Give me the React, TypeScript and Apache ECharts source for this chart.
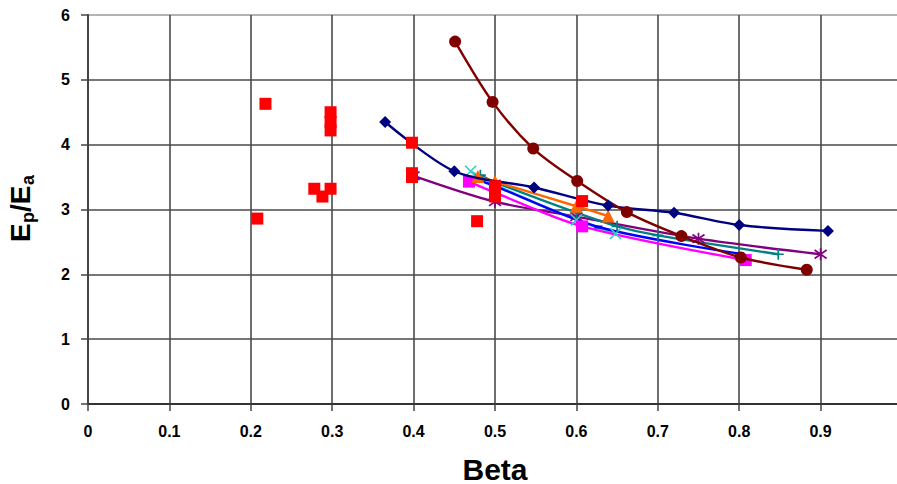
import React, { useEffect, useRef } from "react";
import * as echarts from "echarts";

// Beta (x) and Ep/Ea (y) for each test series
const navyBeta = [0.365, 0.45, 0.548, 0.639, 0.72, 0.8, 0.909];
const navyRatio = [4.35, 3.59, 3.34, 3.06, 2.95, 2.76, 2.67];

const maroonBeta = [0.451, 0.497, 0.547, 0.601, 0.662, 0.729, 0.802, 0.883];
const maroonRatio = [5.59, 4.66, 3.94, 3.44, 2.96, 2.59, 2.26, 2.07];

const purpleBeta = [0.4, 0.5, 0.6, 0.75, 0.9];
const purpleRatio = [3.52, 3.12, 2.89, 2.55, 2.31];

const tealBeta = [0.482, 0.5, 0.6, 0.65, 0.7, 0.848];
const tealRatio = [3.53, 3.42, 2.95, 2.74, 2.6, 2.31];

const cyanBeta = [0.47, 0.5, 0.6, 0.648];
const cyanRatio = [3.59, 3.38, 2.84, 2.63];

const orangeBeta = [0.479, 0.5, 0.6, 0.639];
const orangeRatio = [3.51, 3.43, 3.05, 2.9];

const blueBeta = [0.475, 0.5, 0.627, 0.8];
const blueRatio = [3.48, 3.36, 2.73, 2.32];

const magentaBeta = [0.468, 0.5, 0.607, 0.808];
const magentaRatio = [3.43, 3.26, 2.74, 2.22];

const redBeta = [0.218, 0.298, 0.298, 0.298, 0.278, 0.298, 0.288, 0.208, 0.398, 0.398, 0.398, 0.478, 0.5, 0.5, 0.5, 0.607];
const redRatio = [4.63, 4.5, 4.35, 4.22, 3.32, 3.32, 3.2, 2.86, 4.03, 3.56, 3.5, 2.82, 3.36, 3.28, 3.2, 3.13];

const xTickStep = 0.1;
const yTickStep = 1;

const pairs = (xs: number[], ys: number[]) => xs.map((x, i) => [x, ys[i]]);

const FONT = "'Liberation Sans', Arial, sans-serif";

const crossPath = "path://M0,0L10,10M10,0L0,10";
const starPath = "path://M5,0L5,10M0.8,1.5L9.2,8.5M9.2,1.5L0.8,8.5";
const plusPath = "path://M5,0L5,10M0,5L10,5";

function lineSeries(
  name: string,
  xs: number[],
  ys: number[],
  color: string,
  symbol: string,
  symbolSize: number | number[],
  stroked = false,
  z = 2
) {
  return {
    name,
    type: "line",
    data: pairs(xs, ys),
    smooth: 0.3,
    symbol,
    symbolSize,
    symbolKeepAspect: false,
    z,
    lineStyle: { color, width: 2.4 },
    itemStyle: stroked
      ? { color: "transparent", borderColor: color, borderWidth: 1.7, opacity: 1 }
      : { color, borderWidth: 0, opacity: 1 },
    emphasis: { disabled: true },
  };
}

export default function App() {
  const ref = useRef<HTMLDivElement>(null);

  useEffect(() => {
    if (!ref.current) return;
    const chart = echarts.init(ref.current, undefined, { renderer: "svg" });

    chart.setOption({
      animation: false,
      backgroundColor: "#ffffff",
      grid: { left: 88, top: 15, width: 814, height: 389, outerBoundsMode: "none", containLabel: false },
      xAxis: {
        type: "value",
        min: 0,
        max: 1,
        interval: xTickStep,
        name: "Beta",
        nameLocation: "middle",
        nameGap: 50,
        nameTextStyle: { fontFamily: FONT, fontWeight: "bold", fontSize: 30, color: "#000" },
        axisLine: { show: true, onZero: false, lineStyle: { color: "#333", width: 2 } },
        axisTick: { show: true, inside: false, length: 7, lineStyle: { color: "#444", width: 1.5 } },
        axisLabel: { margin: 19, fontFamily: FONT, fontWeight: "bold", fontSize: 16, color: "#000" },
        splitLine: { show: true, lineStyle: { color: "#4a4a4a", width: 1.6 } },
      },
      yAxis: {
        type: "value",
        min: 0,
        max: 6,
        interval: yTickStep,
        axisLine: { show: true, onZero: false, lineStyle: { color: "#444", width: 2 } },
        axisTick: { show: true, inside: false, length: 7, lineStyle: { color: "#444", width: 1.5 } },
        axisLabel: { margin: 18, fontFamily: FONT, fontWeight: "bold", fontSize: 16, color: "#000" },
        splitLine: {
          show: true,
          lineStyle: {
            color: ["#4a4a4a", "#4a4a4a", "#4a4a4a", "#4a4a4a", "#4a4a4a", "#4a4a4a", "#9a9a9a"],
            width: 1.6,
          },
        },
      },
      graphic: [
        {
          type: "group",
          x: 25,
          y: 209,
          rotation: Math.PI / 2,
          children: [
            { type: "text", x: -33, y: 9, style: { text: "E", font: `bold 28px ${FONT}`, fill: "#000", verticalAlign: "bottom" } },
            { type: "text", x: -14, y: 12, style: { text: "p", font: `bold 18px ${FONT}`, fill: "#000", verticalAlign: "bottom" } },
            { type: "text", x: -3, y: 9, style: { text: "/E", font: `bold 28px ${FONT}`, fill: "#000", verticalAlign: "bottom" } },
            { type: "text", x: 24, y: 12, style: { text: "a", font: `bold 18px ${FONT}`, fill: "#000", verticalAlign: "bottom" } },
          ],
        },
      ],
      series: [
        lineSeries("purple", purpleBeta, purpleRatio, "#800080", starPath, 12, true),
        lineSeries("cyan", cyanBeta, cyanRatio, "#33cccc", crossPath, 11, true),
        lineSeries("teal", tealBeta, tealRatio, "#008080", plusPath, 11, true),
        lineSeries("blue", blueBeta, blueRatio, "#0000ff", "rect", [8, 3]),
        lineSeries("magenta", magentaBeta, magentaRatio, "#ff00ff", "rect", 12),
        lineSeries("orange", orangeBeta, orangeRatio, "#ff6600", "triangle", 13),
        lineSeries("navy", navyBeta, navyRatio, "#000080", "diamond", 12, false, 3),
        lineSeries("maroon", maroonBeta, maroonRatio, "#800000", "circle", 12, false, 3),
        {
          name: "red",
          type: "scatter",
          data: pairs(redBeta, redRatio),
          symbol: "rect",
          symbolSize: 12,
          z: 5,
          itemStyle: { color: "#ff0000", opacity: 1 },
          emphasis: { disabled: true },
        },
      ],
    });

    return () => chart.dispose();
  }, []);

  return (
    <div
      ref={ref}
      style={{ position: "fixed", left: 0, top: 0, width: 897, height: 484, overflow: "hidden", background: "#fff" }}
    />
  );
}
